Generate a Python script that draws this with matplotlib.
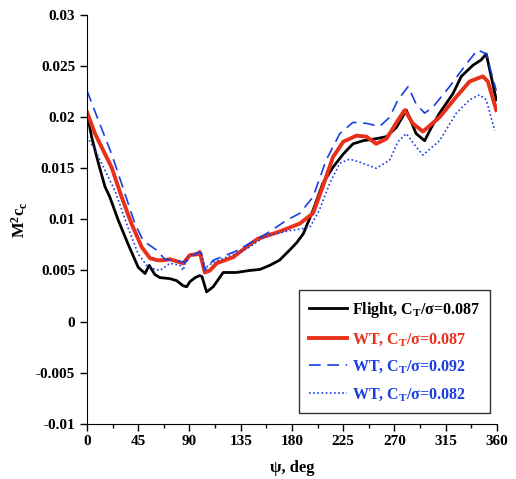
import numpy as np
import matplotlib
matplotlib.use('Agg')
import matplotlib.pyplot as plt
from matplotlib.ticker import MultipleLocator

plt.rcParams['font.family'] = 'serif'
plt.rcParams['font.serif'] = ['Liberation Serif']
plt.rcParams['font.weight'] = 'bold'
plt.rcParams['mathtext.fontset'] = 'custom'
plt.rcParams['mathtext.rm'] = 'Liberation Serif:bold'
plt.rcParams['mathtext.bf'] = 'Liberation Serif:bold'
plt.rcParams['mathtext.it'] = 'Liberation Serif:bold'

# Flight, CT/sigma = 0.087
psi_fl = [0, 4, 10, 15.8, 20, 27.5, 36, 45, 51, 54.6, 59.6, 64, 72.8, 78.7, 84.5,
          87.5, 90.4, 95, 99, 101, 105, 110.8, 119.6, 131, 143, 151.8, 160.5, 169,
          178, 184, 190, 198.5, 207, 216, 225, 233.6, 242.4, 254, 263, 271.7, 280.4,
          289, 296.5, 302.4, 309.6, 321.3, 328.7, 339, 346, 350.6, 359.4]
m2cc_fl = [0.0205, 0.0181, 0.0155, 0.0132, 0.0122, 0.0099, 0.0076, 0.0053, 0.0047,
           0.0055, 0.0046, 0.0043, 0.0042, 0.0040, 0.0035, 0.0034, 0.0039, 0.0043,
           0.0045, 0.0044, 0.0029, 0.0034, 0.0048, 0.0048, 0.0050, 0.0051, 0.0055,
           0.0060, 0.0070, 0.0077, 0.0086, 0.0109, 0.0135, 0.0151, 0.0164, 0.0174,
           0.0177, 0.0179, 0.0181, 0.0190, 0.0207, 0.0184, 0.0177, 0.0190, 0.0204,
           0.0223, 0.0240, 0.0251, 0.0256, 0.0262, 0.0217]

# WT, CT/sigma = 0.087
psi_wt87 = [0, 7, 15.8, 21.6, 30.4, 39, 48, 55.3, 62, 67, 72.8, 84.5, 90.4, 97.6, 99,
            103.5, 108, 113.8, 128.4, 140, 150, 169, 178, 187, 198.5, 207, 216, 225,
            236.6, 245.4, 254, 263, 273, 279, 286, 295, 309.6, 324.3, 336, 347.6,
            352, 359.4]
m2cc_wt87 = [0.0205, 0.0184, 0.0164, 0.0151, 0.0122, 0.0096, 0.0073, 0.0062, 0.0060,
             0.0060, 0.0061, 0.0057, 0.0065, 0.0066, 0.0068, 0.0048, 0.0050, 0.0057,
             0.0063, 0.0073, 0.0081, 0.0088, 0.0092, 0.0096, 0.0106, 0.0132, 0.0161,
             0.0176, 0.0182, 0.0181, 0.0174, 0.0179, 0.0197, 0.0207, 0.0194, 0.0186,
             0.0200, 0.0220, 0.0235, 0.0240, 0.0235, 0.0207]

# WT, CT/sigma = 0.092
psi_wt92 = [0, 10, 21.6, 30.4, 42, 49.4, 61, 68.4, 86, 97.6, 100.5, 103.5, 110.8,
            131, 160.5, 175, 187, 198.5, 210, 222, 233.6, 245.4, 257, 265.8, 273,
            282, 289, 296.5, 303.8, 318.4, 333, 343, 350.6, 359.4]
m2cc_wt92 = [0.0226, 0.0197, 0.0164, 0.0135, 0.0096, 0.0079, 0.0070, 0.0061, 0.0058,
             0.0068, 0.0067, 0.0050, 0.0060, 0.0069, 0.0088, 0.0099, 0.0106, 0.0122,
             0.0158, 0.0184, 0.0195, 0.0194, 0.0191, 0.0200, 0.0217, 0.0230, 0.0213,
             0.0204, 0.0210, 0.0230, 0.0252, 0.0266, 0.0262, 0.0226]

# WT, CT/sigma = 0.082
psi_wt82 = [0, 7, 15.8, 24.6, 36, 45, 53.8, 64, 72.8, 81.6, 84.5, 87.5, 97.6, 100.5,
            103.5, 110.8, 122.5, 140, 157.6, 178, 195.6, 204, 213, 222, 230.7, 239.5,
            254, 265.8, 273, 280.4, 289, 295, 309.6, 324.3, 336, 344.7, 350.6, 358]
m2cc_wt82 = [0.0181, 0.0168, 0.0148, 0.0128, 0.0092, 0.0066, 0.0053, 0.0050, 0.0057,
             0.0055, 0.0050, 0.0063, 0.0068, 0.0067, 0.0052, 0.0058, 0.0063, 0.0071,
             0.0084, 0.0089, 0.0092, 0.0109, 0.0135, 0.0155, 0.0159, 0.0156, 0.0150,
             0.0158, 0.0176, 0.0184, 0.0171, 0.0163, 0.0177, 0.0204, 0.0217, 0.0222,
             0.0217, 0.0187]

red = '#E8301A'
blue = '#1A3FE0'

fig = plt.figure(figsize=(5.16, 4.79), dpi=100)
ax = fig.add_axes([0.1686, 0.1155, 0.7945, 0.8530])

ax.plot(psi_fl, m2cc_fl, color='black', lw=2.0, solid_joinstyle='round',
        label=r'Flight, C$_\mathregular{T}$/σ=0.087')
ax.plot(psi_wt87, m2cc_wt87, color=red, lw=2.8, solid_joinstyle='round',
        label=r'WT, C$_\mathregular{T}$/σ=0.087')
ax.plot(psi_wt92, m2cc_wt92, color=blue, lw=1.2, dashes=(7, 4),
        label=r'WT, C$_\mathregular{T}$/σ=0.092')
ax.plot(psi_wt82, m2cc_wt82, color=blue, lw=1.2, ls=(0, (1, 1.5)),
        label=r'WT, C$_\mathregular{T}$/σ=0.082')

ax.set_xlim(0, 360)
ax.set_ylim(-0.01, 0.03)
ax.set_xticks(np.arange(0, 361, 45))
ax.xaxis.set_minor_locator(MultipleLocator(22.5))
ax.set_yticks(np.arange(-0.01, 0.0301, 0.005))
ax.set_yticklabels(['-0.01', '-0.005', '0', '0.005', '0.01', '0.015', '0.02', '0.025', '0.03'])
ax.spines['top'].set_visible(False)
ax.spines['right'].set_visible(False)
ax.tick_params(axis='both', which='major', direction='out', length=5, width=1, labelsize=11)
ax.tick_params(axis='x', which='minor', direction='out', length=3, width=1)
for lab in ax.get_xticklabels() + ax.get_yticklabels():
    lab.set_fontweight('bold')

ax.set_xlabel('ψ, deg', fontsize=12, fontweight='bold', labelpad=8)
ax.set_ylabel(r'M$^\mathregular{2}$c$_\mathregular{c}$', fontsize=12, fontweight='bold', labelpad=4)

leg = ax.legend(loc='lower right', bbox_to_anchor=(0.983, 0.026), borderaxespad=0,
                fontsize=11.5, frameon=True, fancybox=False, edgecolor='black',
                handlelength=2.4, handletextpad=0.3, labelspacing=0.7, borderpad=0.6)
leg.get_frame().set_linewidth(1.0)
for txt, c in zip(leg.get_texts(), ['black', red, blue, blue]):
    txt.set_color(c)
    txt.set_fontweight('bold')

fig.savefig('out.png', dpi=100)
